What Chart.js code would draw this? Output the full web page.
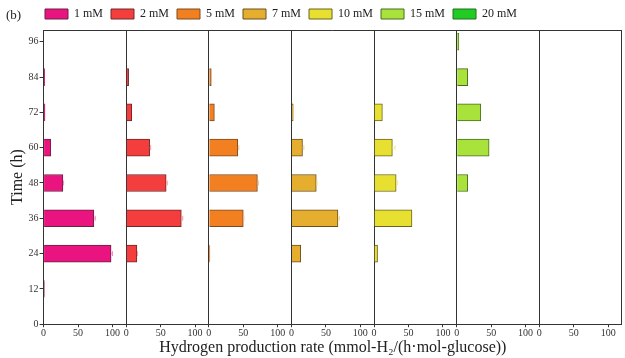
<!DOCTYPE html>
<html>
<head>
<meta charset="utf-8">
<script src="https://cdn.jsdelivr.net/npm/chart.js@4/dist/chart.umd.min.js"></script>
<style>
  html, body { margin: 0; padding: 0; background: #fff; }
  #wrap { position: relative; width: 625px; height: 358px; }
  #tag { position: absolute; left: 6px; top: 7px; font: 13px "Liberation Serif", serif; color: #222; }
</style>
</head>
<body>
<div id="wrap">
  <canvas id="c" width="625" height="358"></canvas>
  <div id="tag">(b)</div>
</div>
<script>
// ---- data ----
const times = [12, 24, 36, 48, 60, 72, 84, 96];
const seriesNames = ['1 mM', '2 mM', '5 mM', '7 mM', '10 mM', '15 mM', '20 mM'];
const rate1mM  = [1, 98, 73, 28, 10.5, 2, 1.5, 0];
const rate2mM  = [0, 15.5, 80, 58, 34, 8, 3.5, 0];
const rate5mM  = [0, 1.5, 50, 70.5, 42, 8, 3.5, 0];
const rate7mM  = [0, 13.5, 67.5, 36, 16, 2.5, 0, 0];
const rate10mM = [0, 5, 55, 32, 26.5, 12, 0, 0];
const rate15mM = [0, 0, 0, 16, 47, 35, 16, 3];
const rate20mM = [0, 0, 0, 0, 0, 0, 0, 0];
const err1mM  = [0, 2, 2, 1, 0, 0, 0, 0];
const err2mM  = [0, 1, 2, 1.5, 1.5, 0, 0, 0];
const err5mM  = [0, 0, 1, 1.5, 1.5, 0, 0, 0];
const err7mM  = [0, 0, 2, 1, 2, 0, 0, 0];
const err10mM = [0, 0, 0, 2, 4, 0, 0, 0];
const err15mM = [0, 0, 0, 0, 0, 0, 0, 0];
const err20mM = [0, 0, 0, 0, 0, 0, 0, 0];
const yTicks = [0, 12, 24, 36, 48, 60, 72, 84, 96];
const xTicks = [0, 50, 100];

const rates = [rate1mM, rate2mM, rate5mM, rate7mM, rate10mM, rate15mM, rate20mM];
const errs  = [err1mM, err2mM, err5mM, err7mM, err10mM, err15mM, err20mM];
const fills = ['#EA1480', '#F43E3E', '#F28020', '#E6AE2E', '#E8E030', '#A8E23A', '#22CC22'];
const edges = ['#6a2040', '#702828', '#7a4a20', '#6a5020', '#6a6420', '#4a6a20', '#207020'];
const errCols = ['#F58AC0', '#FA9A9A', '#F8C090', '#F2D690', '#F3EE90', '#D0F0A0', '#90E890'];

const FONT = '"Liberation Serif", "Times New Roman", serif';
const PANEL_MAX = 120;

const datasets = rates.map((arr, i) => ({
  label: seriesNames[i],
  data: times.map((t, k) => ({ x: arr[k], y: t })),
  xAxisID: 'x' + i,
  yAxisID: 'y',
  backgroundColor: fills[i],
  borderColor: edges[i],
  borderWidth: 1,
  borderSkipped: 'start',
  barThickness: 17,
  grouped: false,
  errors: errs[i],
  errColor: errCols[i]
}));

const scales = {
  y: {
    type: 'linear', position: 'left', min: 0, max: 100, offset: false,
    afterBuildTicks: s => { s.ticks = yTicks.map(v => ({ value: v })); },
    ticks: { font: { family: FONT, size: 10 }, color: '#333', padding: 1 },
    grid: { offset: false, drawOnChartArea: false, drawTicks: true, tickLength: 4, color: '#333' },
    border: { display: true, color: '#333', width: 1 },
    title: { display: true, text: 'Time (h)', font: { family: FONT, size: 16, lineHeight: 1.1 }, color: '#222', padding: { top: 0, bottom: 1 } }
  }
};
for (let i = 0; i < 7; i++) {
  scales['x' + i] = {
    type: 'linear', position: 'bottom', stack: 'panels', stackWeight: 1,
    min: 0, max: PANEL_MAX, offset: false,
    afterBuildTicks: s => { s.ticks = xTicks.map(v => ({ value: v })); },
    ticks: { font: { family: FONT, size: 10, lineHeight: 1 }, color: '#333', padding: 1, maxRotation: 0, autoSkip: false },
    grid: {
      offset: false, drawOnChartArea: true, drawTicks: true, tickLength: 3,
      color: ctx => (ctx.tick && ctx.tick.value === 0) ? '#333' : 'rgba(0,0,0,0)',
      tickColor: '#333'
    },
    border: { display: true, color: '#333', width: 1 },
    title: { display: false }
  };
}
// full-width axis that only carries the shared x title
scales.xTitle = {
  type: 'linear', position: 'bottom', min: 0, max: 1,
  ticks: { display: false },
  grid: { display: false, drawTicks: false },
  border: { display: false },
  title: {
    display: true,
    text: 'Hydrogen production rate (mmol-H\u2082/(h\u00b7mol-glucose))',
    font: { family: FONT, size: 16, lineHeight: 1.05 }, color: '#222', padding: { top: 0, bottom: 2 }
  }
};

const framePlugin = {
  id: 'frame',
  afterLayout(chart) {
    if (chart.legend) { chart.legend.left = 37; }
  },
  afterDatasetsDraw(chart) {
    const ctx = chart.ctx;
    const ca = chart.chartArea;
    ctx.save();
    // error bars
    chart.data.datasets.forEach((ds, i) => {
      const xs = chart.scales[ds.xAxisID];
      const ys = chart.scales[ds.yAxisID];
      ctx.strokeStyle = ds.errColor;
      ctx.lineWidth = 1;
      ds.data.forEach((p, k) => {
        const e = ds.errors[k];
        if (!e) return;
        const x1 = xs.getPixelForValue(p.x), x2 = xs.getPixelForValue(p.x + e);
        const y = ys.getPixelForValue(p.y);
        ctx.beginPath();
        ctx.moveTo(x1, y); ctx.lineTo(x2, y);
        ctx.moveTo(x2, y - 2.5); ctx.lineTo(x2, y + 2.5);
        ctx.stroke();
      });
    });
    // top and right frame lines
    ctx.strokeStyle = '#333';
    ctx.lineWidth = 1;
    ctx.beginPath();
    ctx.moveTo(ca.left, Math.round(ca.top) + 0.5);
    ctx.lineTo(ca.right, Math.round(ca.top) + 0.5);
    ctx.moveTo(Math.round(ca.right) - 0.5, ca.top);
    ctx.lineTo(Math.round(ca.right) - 0.5, ca.bottom);
    ctx.stroke();
    ctx.restore();
  }
};

new Chart(document.getElementById('c'), {
  type: 'bar',
  data: { datasets },
  options: {
    indexAxis: 'y',
    responsive: false,
    animation: false,
    layout: { padding: { left: 9, right: 3, top: 0, bottom: 0 } },
    plugins: {
      legend: {
        display: true, position: 'top', align: 'start',
        labels: { boxWidth: 23, boxHeight: 10, padding: 8, color: '#222', font: { family: FONT, size: 12 } }
      },
      tooltip: { enabled: false }
    },
    scales
  },
  plugins: [framePlugin]
});
</script>
</body>
</html>
